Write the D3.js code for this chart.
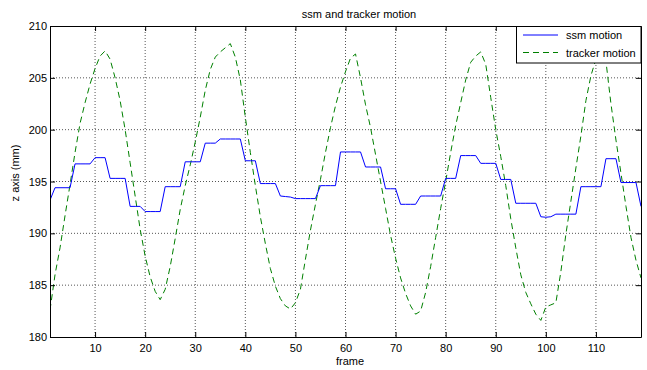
<!DOCTYPE html>
<html>
<head>
<meta charset="utf-8">
<script src="https://cdn.jsdelivr.net/npm/d3@7"></script>
<style>
  body { margin: 0; background: #fff; }
  svg { display: block; font-family: "Liberation Sans", Arial, Helvetica, sans-serif; }
</style>
</head>
<body>
<script>
// frame numbers 1..119
const frames = d3.range(1, 120);

// ssm motion (mm), one value per frame
const ssmMotion = [
  193.2,
  194.4, 194.4, 194.4, 194.4,
  196.7, 196.7, 196.7, 196.7,
  197.3, 197.3, 197.3,
  195.3, 195.3, 195.3, 195.3,
  192.6, 192.6, 192.6,
  192.1, 192.1, 192.1, 192.1,
  194.5, 194.5, 194.5, 194.5,
  196.9, 196.9, 196.9, 196.9,
  198.7, 198.7, 198.7,
  199.1, 199.1, 199.1, 199.1, 199.1,
  197.0, 197.0, 197.0,
  194.8, 194.8, 194.8, 194.8,
  193.6, 193.55, 193.5,
  193.35, 193.35, 193.35, 193.35, 193.35,
  194.6, 194.6, 194.6, 194.6,
  197.85, 197.85, 197.85, 197.85, 197.85,
  196.4, 196.4, 196.4, 196.4,
  194.3, 194.3, 194.3,
  192.8, 192.8, 192.8, 192.8,
  193.6, 193.6, 193.6, 193.6, 193.6,
  195.3, 195.3, 195.3,
  197.5, 197.5, 197.5, 197.5,
  196.75, 196.75, 196.75, 196.75,
  195.2, 195.2, 195.2,
  192.9, 192.9, 192.9, 192.9, 192.9,
  191.6, 191.55, 191.6,
  191.85, 191.85, 191.85, 191.85, 191.85,
  194.5, 194.5, 194.5, 194.5, 194.5,
  197.2, 197.2, 197.2,
  194.9, 194.9, 194.9, 194.9,
  192.6
];

// tracker motion (mm), one value per frame
const trackerMotion = [
  182.6, 186.0, 188.6, 191.7, 194.7, 197.8, 200.6, 202.6, 204.4, 205.9,
  207.1, 207.6, 206.8, 205.0, 202.8, 200.0, 196.8, 193.6, 190.4, 187.8,
  185.8, 184.4, 183.6, 184.6, 186.8, 189.5, 192.3, 194.6, 196.6, 198.8,
  201.2, 203.8, 205.8, 207.0, 207.5, 207.9, 208.3, 207.0, 204.8, 201.2,
  197.8, 194.6, 191.6, 189.0, 186.6, 184.9, 183.7, 183.0, 182.7, 183.3,
  184.6, 187.5, 190.3, 192.8, 195.2, 197.8, 200.2, 202.3, 204.1, 205.6,
  206.9, 207.3, 205.0, 202.4, 200.2, 197.6, 195.0, 192.4, 189.8, 187.6,
  185.7, 184.2, 183.0, 182.2, 182.5, 184.3, 186.8, 189.6, 192.4, 195.0,
  197.8, 200.4, 202.6, 204.8, 206.5, 207.1, 207.5, 206.3, 203.1, 200.0,
  197.4, 194.6, 191.4, 188.6, 186.0, 184.3, 183.2, 182.2, 181.6, 182.9,
  183.1, 183.3, 186.3, 189.9, 193.1, 196.3, 199.4, 202.8, 205.2, 206.8,
  207.5, 206.6, 202.5, 199.0, 195.8, 192.6, 189.6, 187.4, 185.7
];

const xTicks = [10, 20, 30, 40, 50, 60, 70, 80, 90, 100, 110];
const yTicks = [180, 185, 190, 195, 200, 205, 210];
const seriesNames = ["ssm motion", "tracker motion"];

const width = 647, height = 370;
const margin = { top: 26, right: 6, bottom: 33, left: 50 };
const plotW = width - margin.left - margin.right;
const plotH = height - margin.top - margin.bottom;

const svg = d3.select("body").append("svg")
  .attr("width", width)
  .attr("height", height);

const x = d3.scaleLinear().domain([1, 119]).range([margin.left, margin.left + plotW]);
const y = d3.scaleLinear().domain([180, 210]).range([margin.top + plotH, margin.top]);

svg.append("defs").append("clipPath").attr("id", "plotclip")
  .append("rect")
  .attr("x", margin.left).attr("y", margin.top)
  .attr("width", plotW).attr("height", plotH);

// dotted grid
const grid = svg.append("g").attr("stroke", "#555").attr("stroke-width", 1).attr("stroke-dasharray", "1,2");
grid.selectAll(".gx").data(xTicks).join("line")
  .attr("x1", d => x(d)).attr("x2", d => x(d))
  .attr("y1", margin.top).attr("y2", margin.top + plotH);
grid.selectAll(".gy").data(yTicks.slice(1, -1)).join("line")
  .attr("x1", margin.left).attr("x2", margin.left + plotW)
  .attr("y1", d => y(d)).attr("y2", d => y(d));

// lines
const line = d3.line().x((d, i) => x(frames[i])).y(d => y(d));
const plot = svg.append("g").attr("clip-path", "url(#plotclip)");
plot.append("path")
  .attr("d", line(trackerMotion))
  .attr("fill", "none")
  .attr("stroke", "#008000")
  .attr("stroke-width", 1)
  .attr("stroke-dasharray", "6,4");
plot.append("path")
  .attr("d", line(ssmMotion))
  .attr("fill", "none")
  .attr("stroke", "#0000ff")
  .attr("stroke-width", 1);

// axes (box with inward ticks)
const axisStyle = g => {
  g.select(".domain").attr("stroke", "#000");
  g.selectAll(".tick line").attr("stroke", "#000");
  g.selectAll("text").attr("fill", "#000").style("font-size", "11px");
};

svg.append("g")
  .attr("transform", `translate(0,${margin.top + plotH})`)
  .call(d3.axisBottom(x).tickValues(xTicks).tickSizeInner(-5).tickSizeOuter(0).tickPadding(7))
  .call(axisStyle);
svg.append("g")
  .attr("transform", `translate(0,${margin.top})`)
  .call(d3.axisTop(x).tickValues(xTicks).tickSizeInner(-5).tickSizeOuter(0).tickFormat(""))
  .call(axisStyle);
svg.append("g")
  .attr("transform", `translate(${margin.left},0)`)
  .call(d3.axisLeft(y).tickValues(yTicks).tickSizeInner(-5).tickSizeOuter(0).tickPadding(3))
  .call(axisStyle);
svg.append("g")
  .attr("transform", `translate(${margin.left + plotW},0)`)
  .call(d3.axisRight(y).tickValues(yTicks).tickSizeInner(-5).tickSizeOuter(0).tickFormat(""))
  .call(axisStyle);

// labels
svg.append("text")
  .attr("x", 359).attr("y", 18)
  .attr("text-anchor", "middle")
  .style("font-size", "11px")
  .text("ssm and tracker motion");
svg.append("text")
  .attr("x", 350).attr("y", 365)
  .attr("text-anchor", "middle")
  .style("font-size", "11px")
  .text("frame");
svg.append("text")
  .attr("transform", "translate(19,173) rotate(-90)")
  .attr("text-anchor", "middle")
  .style("font-size", "11px")
  .text("z axis (mm)");

// legend
const lg = svg.append("g");
lg.append("rect")
  .attr("x", 516.5).attr("y", margin.top + 0.5)
  .attr("width", margin.left + plotW - 516.5).attr("height", 36.5)
  .attr("fill", "#fff").attr("stroke", "#000");
const legendItems = lg.selectAll(".item").data(seriesNames).join("g")
  .attr("transform", (d, i) => `translate(0,${35 + i * 17.5})`);
legendItems.append("line")
  .attr("x1", 523).attr("x2", 558).attr("y1", 0).attr("y2", 0)
  .attr("stroke", (d, i) => i === 0 ? "#0000ff" : "#008000")
  .attr("stroke-dasharray", (d, i) => i === 0 ? null : "6,4");
legendItems.append("text")
  .attr("x", 566).attr("y", 4)
  .style("font-size", "11px")
  .text(d => d);
</script>
</body>
</html>
